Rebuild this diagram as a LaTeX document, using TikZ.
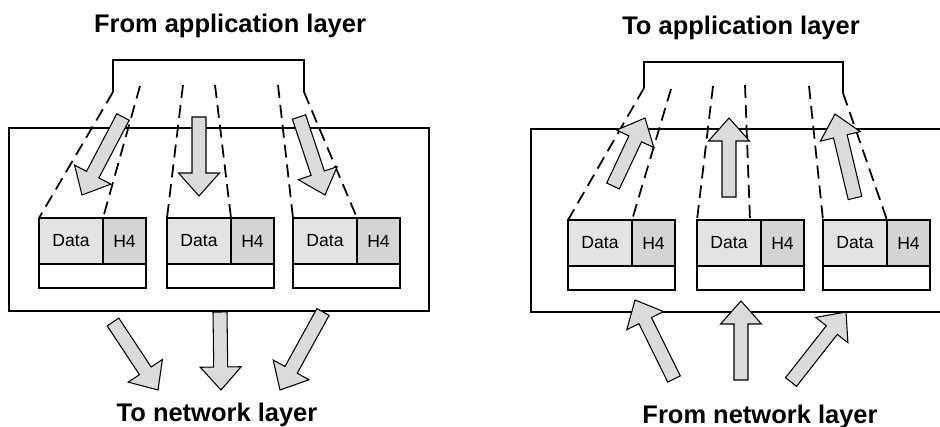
\documentclass[tikz,border=0pt]{standalone}
\usepackage{fontspec}
\setmainfont{Liberation Sans}
\usepackage{tikz}
\usetikzlibrary{calc, positioning}
\usepackage{xcolor}
\tikzstyle{dnode} = [%
  draw=black,
  line width=0.9pt,
  fill=gray!22,
  minimum width=12.8mm,
  minimum height=9.2mm,
  inner sep=0pt,
  outer sep=0pt,
  text centered,
  font=\fontsize{10}{12}\selectfont
]
\tikzstyle{hnode} = [dnode, fill=gray!34, minimum width=8.6mm]
\tikzstyle{tnode} = [dnode, fill=white, minimum width=21.4mm, minimum height=4.8mm]
\tikzstyle{barrow} = [draw=black, line width=0.6pt, fill=gray!28, line join=miter]

% block arrow: name, tail, tip
\newcommand{\blkarrow}[3]{%
  \coordinate (#1-t) at (#2);
  \coordinate (#1-p) at (#3);
  \coordinate (#1-hb) at ($(#1-p)!4.6mm!(#1-t)$);
  \filldraw[barrow] ($(#1-t)!1.4mm!90:(#1-p)$) -- ($(#1-hb)!1.4mm!90:(#1-p)$)
    -- ($(#1-hb)!4.1mm!90:(#1-p)$) -- (#1-p) -- ($(#1-hb)!4.1mm!-90:(#1-p)$)
    -- ($(#1-hb)!1.4mm!-90:(#1-p)$) -- ($(#1-t)!1.4mm!-90:(#1-p)$) -- cycle;
}

\begin{document}
\begin{tikzpicture}[%
  x=0.2mm, y=-0.2mm,
  every node/.style={%
    text centered,
    align=center
  },
  title/.style={anchor=base, font=\fontsize{14.5}{17}\selectfont\bfseries},
  frame/.style={draw=black, line width=1.1pt},
  guide/.style={draw=black, line width=1pt, dash pattern=on 2.6mm off 1.4mm}
]
  \useasboundingbox (0,0) rectangle (940,427);
  \clip (0,0) rectangle (940,427);

  % Titles
  \node[title] (ttl1) at (230,33) {From application layer};
  \node[title] (ttl2) at (217,422) {To network layer};
  \node[title] (ttl3) at (741,35) {To application layer};
  \node[title] (ttl4) at (760,423) {From network layer};

  % Frames
  \draw[frame] (9,128) rectangle (429,311);
  \draw[frame] (531,129) rectangle (960,312);

  % Brackets
  \coordinate (lbl) at (113,92);
  \coordinate (lbr) at (304,92);
  \coordinate (rbl) at (644,88);
  \coordinate (rbr) at (843,93);
  \draw[frame] (lbl) -- (113,60) -| (lbr);
  \draw[frame] (rbl) -- (644,62) -| (rbr);

  % Segments, sending side
  \node[dnode,anchor=north west] (d1) at (39,218) {Data};
  \node[hnode,right=0pt of d1] (h1) {H4};
  \node[tnode,below=0pt of d1.south west,anchor=north west] (t1) {};
  \node[dnode,anchor=north west] (d2) at (167,218) {Data};
  \node[hnode,right=0pt of d2] (h2) {H4};
  \node[tnode,below=0pt of d2.south west,anchor=north west] (t2) {};
  \node[dnode,anchor=north west] (d3) at (293,218) {Data};
  \node[hnode,right=0pt of d3] (h3) {H4};
  \node[tnode,below=0pt of d3.south west,anchor=north west] (t3) {};

  % Segments, receiving side
  \node[dnode,anchor=north west] (d4) at (568,220) {Data};
  \node[hnode,right=0pt of d4] (h4) {H4};
  \node[tnode,below=0pt of d4.south west,anchor=north west] (t4) {};
  \node[dnode,anchor=north west] (d5) at (697,220) {Data};
  \node[hnode,right=0pt of d5] (h5) {H4};
  \node[tnode,below=0pt of d5.south west,anchor=north west] (t5) {};
  \node[dnode,anchor=north west] (d6) at (823,220) {Data};
  \node[hnode,right=0pt of d6] (h6) {H4};
  \node[tnode,below=0pt of d6.south west,anchor=north west] (t6) {};

  % Dashed guides
  \coordinate (lq1) at (140,86);
  \coordinate (lq2) at (183,85);
  \coordinate (lq3) at (215,85);
  \coordinate (lq4) at (278,85);
  \coordinate (rq1) at (671,89);
  \coordinate (rq2) at (713,86);
  \coordinate (rq3) at (745,85);
  \coordinate (rq4) at (809,86);
  \draw[guide] (lbl) -- (d1.north west);
  \draw[guide] (lq1) -- (h1.north west);
  \draw[guide] (lq2) -- (d2.north west);
  \draw[guide] (lq3) -- (h2.north west);
  \draw[guide] (lq4) -- (d3.north west);
  \draw[guide] (lbr) -- (h3.north west);
  \draw[guide] (rbl) -- (d4.north west);
  \draw[guide] (rq1) -- (h4.north west);
  \draw[guide] (rq2) -- (d5.north west);
  \draw[guide] (rq3) -- ([xshift=-2.2mm]h5.north west);
  \draw[guide] (rq4) -- (d6.north west);
  \draw[guide] (rbr) -- (h6.north west);

  % Block arrows
  \blkarrow{a1}{123,117}{82,195}
  \blkarrow{a2}{199,117}{199,196}
  \blkarrow{a3}{299,117}{325,195}
  \blkarrow{b1}{113,322}{158,390}
  \blkarrow{b2}{220,312}{221,390}
  \blkarrow{b3}{323,312}{280,390}
  \blkarrow{c1}{613,186}{645,118}
  \blkarrow{c2}{729,197}{729,118}
  \blkarrow{c3}{855,198}{835,114}
  \blkarrow{e1}{674,379}{635,300}
  \blkarrow{e2}{741,380}{741,301}
  \blkarrow{e3}{791,382}{846,312}

\end{tikzpicture}
\end{document}
